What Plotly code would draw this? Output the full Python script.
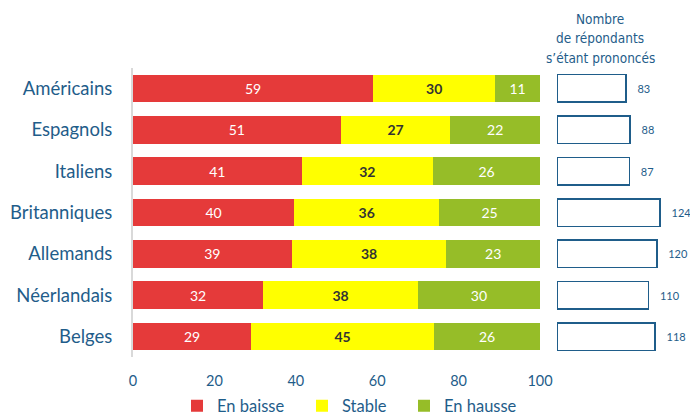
import plotly.graph_objects as go

# data
pays = ["Américains", "Espagnols", "Italiens", "Britanniques",
        "Allemands", "Néerlandais", "Belges"]
en_baisse = [59, 51, 41, 40, 39, 32, 29]
stable = [30, 27, 32, 36, 38, 38, 45]
en_hausse = [11, 22, 26, 25, 23, 30, 26]
repondants = [83, 88, 87, 124, 120, 110, 118]
entete = ["Nombre", "de répondants", "s’étant prononcés"]
x_ticks = [0, 20, 40, 60, 80, 100]

BLUE = "#1f5d8a"
FONT = "Lato"

# each bar is drawn as a share of its own total (rounded labels don't always add to 100)
totaux = [a + b + c for a, b, c in zip(en_baisse, stable, en_hausse)]
def part(vals):
    return [v / t * 100 for v, t in zip(vals, totaux)]

fig = go.Figure()

series = [
    ("En baisse", en_baisse, "#e53a3a", dict(color="white", size=14, family=FONT), "legend", 192),
    ("Stable", stable, "#ffff00", dict(color="#333333", size=14, family=FONT, weight="bold"), "legend2", 317),
    ("En hausse", en_hausse, "#96bd28", dict(color="white", size=14, family=FONT), "legend3", 419),
]
legends = {}
for name, vals, col, tf, leg, lx in series:
    fig.add_trace(go.Bar(
        y=pays, x=part(vals), name=name, orientation="h",
        marker=dict(color=col, line_width=0),
        text=[str(v) for v in vals], textposition="inside",
        insidetextanchor="middle", textangle=0, textfont=tf,
        xaxis="x", yaxis="y", hoverinfo="skip", legend=leg,
    ))
    legends[leg] = dict(x=(lx - 15) / 690, y=1 - 406 / 417, xanchor="left",
                        yanchor="middle", font=dict(size=16.5, color=BLUE),
                        bgcolor="rgba(0,0,0,0)",
                        itemclick=False, itemdoubleclick=False)

# respondents boxes
fig.add_trace(go.Bar(
    y=pays, x=repondants, orientation="h", showlegend=False,
    marker=dict(color="white", line=dict(color=BLUE, width=1.5)),
    text=["   " + str(n) for n in repondants], textposition="outside",
    textfont=dict(color=BLUE, size=11, family=FONT), cliponaxis=False,
    xaxis="x2", yaxis="y", hoverinfo="skip",
))

for i, line in enumerate(entete):
    fig.add_annotation(
        text=line, xref="paper", yref="paper", x=600 / 690,
        y=1 - (19 + 19.5 * i) / 417, xanchor="center", yanchor="middle",
        showarrow=False,
        font=dict(family="DejaVu Sans Condensed", size=13.5, color=BLUE),
    )

fig.update_layout(
    width=690, height=417,
    margin=dict(l=0, r=0, t=0, b=0, autoexpand=False),
    plot_bgcolor="white", paper_bgcolor="white",
    barmode="stack", bargap=0.335,
    font=dict(family=FONT, color=BLUE),
    xaxis=dict(domain=[133 / 690, 540 / 690], range=[0, 100],
               tickvals=x_ticks, showgrid=False, zeroline=False,
               showline=False, tickfont=dict(size=14.5, color=BLUE),
               ticklabelstandoff=13, fixedrange=True, automargin=False),
    xaxis2=dict(domain=[557 / 690, 1], range=[0, 160], visible=False,
                fixedrange=True),
    yaxis=dict(domain=[1 - 357.2 / 417, 1 - 67.8 / 417],
               autorange="reversed", showgrid=False, zeroline=False,
               showline=True, linecolor="#d9d9d9", linewidth=2,
               tickfont=dict(size=18.5, color=BLUE), ticklabelstandoff=15,
               fixedrange=True, automargin=False),
    **legends,
)

# the page's default 8px body margin would shift the figure
fig.write_html("out.html", config={"displayModeBar": False},
               post_script="document.body.style.margin='0';document.body.style.overflow='hidden';")
